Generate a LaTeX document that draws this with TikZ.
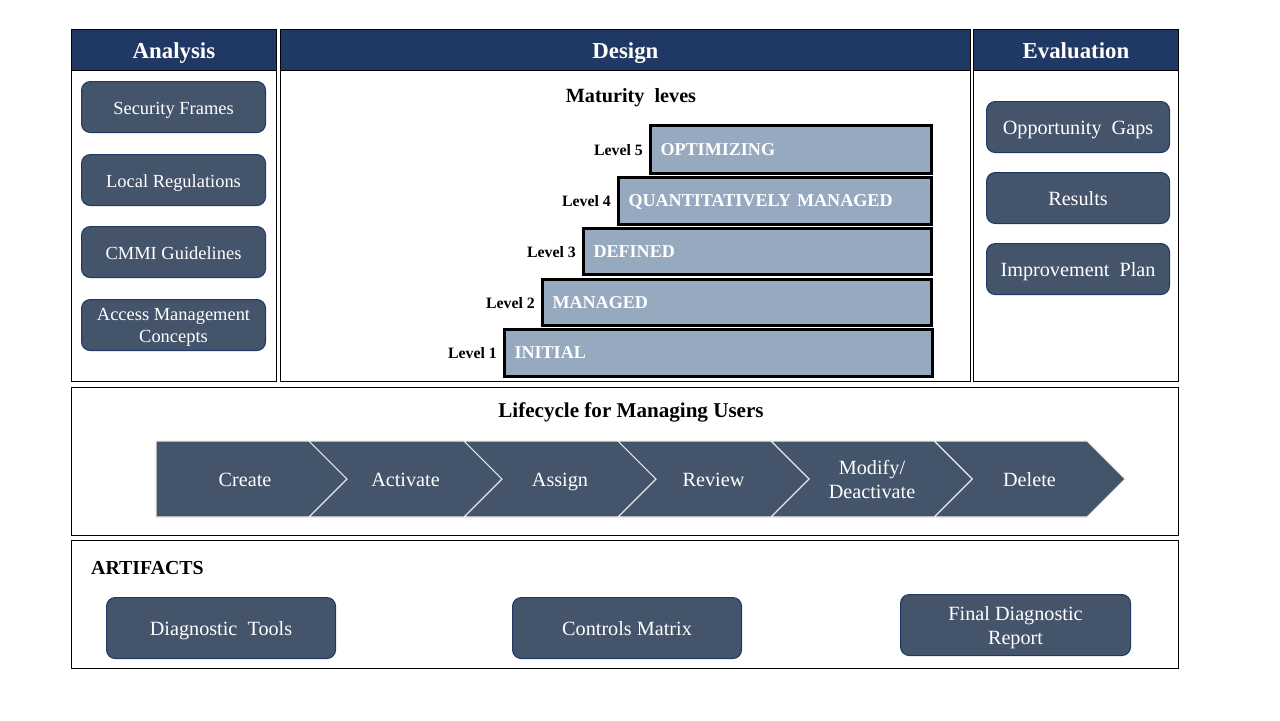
\documentclass[tikz,border=0pt]{standalone}
\usepackage{fontspec}
\setmainfont{Liberation Serif}

\definecolor{navy}{HTML}{203864}
\definecolor{slate}{HTML}{44546A}
\definecolor{steel}{HTML}{97A9BF}

\newlength\pxu
\setlength\pxu{0.02cm}

\tikzset{
  ctr/.style={text height=0.95em, text depth=0.1em},
  panel/.style={draw=black, line width=0.5pt, inner sep=0pt, anchor=north west},
  hdr/.style={fill=navy, draw=black, line width=0.5pt, inner sep=0pt, anchor=north west,
    text=white, text height=1.05em, text depth=0.1em, font=\fontsize{13}{15}\selectfont\bfseries},
  pill/.style={fill=slate, draw=navy, line width=0.6pt, rounded corners=5pt,
    inner sep=0pt, anchor=north west, text=white, align=center},
  pilltxt/.style={text=white, align=center, inner sep=0pt},
  lvlbox/.style={fill=steel, draw=black, line width=1.7pt, inner sep=0pt, anchor=north west,
    text=white, align=left, text height=0.8em, text depth=0.12em,
    font=\fontsize{10.3}{12}\selectfont\bfseries},
  lvltag/.style={text=black, text height=0.8em, text depth=0.12em,
    font=\fontsize{9}{11}\selectfont\bfseries},
  chev/.style={fill=slate, draw=white!85!gray, line width=0.6pt},
  chevtxt/.style={text=white, align=center, font=\fontsize{11.5}{14}\selectfont},
  ttl/.style={ctr, font=\fontsize{11.5}{13}\selectfont\bfseries},
  wh/.style n args={2}{minimum width=#1*\pxu, minimum height=#2*\pxu}
}

\begin{document}
\begin{tikzpicture}[x=0.02cm, y=-0.02cm]
    \useasboundingbox (0,0) rectangle (1280,720);

    % three top panels
    \node[panel, wh={205}{352}] (analysis) at (71,29) {};
    \node[panel, wh={690}{352}] (design) at (280,29) {};
    \node[panel, wh={205}{352}] (evaluation) at (973,29) {};
    \node[hdr, wh={205}{41}] (analysishdr) at (71,29) {Analysis};
    \node[hdr, wh={690}{41}] (designhdr) at (280,29) {Design};
    \node[hdr, wh={205}{41}] (evaluationhdr) at (973,29) {Evaluation};

    % analysis inputs
    \begin{scope}[every node/.append style={font=\fontsize{10.5}{12.5}\selectfont}]
        \node[pill, ctr, wh={184}{51}] (secframes) at (81,81) {Security Frames};
        \node[pill, ctr, wh={184}{51}] (localreg) at (81,154) {Local Regulations};
        \node[pill, ctr, wh={184}{51}] (cmmi) at (81,226) {CMMI Guidelines};
        \node[pill, wh={184}{51}] (accessmgmt) at (81,299) {};
        \node[pilltxt, yshift=-1.1pt] (accesstxt) at (accessmgmt.center) {Access Management\\Concepts};
    \end{scope}

    % maturity levels
    \node[ttl] (maturity) at (631,95) {Maturity\ \ leves};
    \node[lvlbox, wh={281}{48}, text width=261*\pxu,
          label={[lvltag]left:Level 5}] (lvl5) at (649,124) {OPTIMIZING};
    \node[lvlbox, wh={313}{47}, text width=293*\pxu,
          label={[lvltag]left:Level 4}] (lvl4) at (617,176) {QUANTITATIVELY MANAGED};
    \node[lvlbox, wh={348}{46}, text width=328*\pxu,
          label={[lvltag]left:Level 3}] (lvl3) at (582,227) {DEFINED};
    \node[lvlbox, wh={389}{46}, text width=369*\pxu,
          label={[lvltag]left:Level 2}] (lvl2) at (541,278) {MANAGED};
    \node[lvlbox, wh={428}{47}, text width=408*\pxu,
          label={[lvltag]left:Level 1}] (lvl1) at (503,328) {INITIAL};

    % evaluation outputs
    \begin{scope}[every node/.append style={ctr, font=\fontsize{11.5}{13.5}\selectfont}]
        \node[pill, wh={183}{51}] (gaps) at (986,101) {Opportunity\ \ Gaps};
        \node[pill, wh={183}{51}] (results) at (986,172) {Results};
        \node[pill, wh={183}{51}] (improve) at (986,243) {Improvement\ \ Plan};
    \end{scope}

    % lifecycle
    \node[panel, wh={1107}{148}] (lifecycle) at (71,387) {};
    \node[ttl, font=\fontsize{12}{14}\selectfont\bfseries] (lifetitle) at (631,410) {Lifecycle for Managing Users};
    \filldraw[chev] (156,441) -- (309,441) -- (347,479) -- (309,517) -- (156,517) -- cycle;
    \node[chevtxt, ctr] (create) at (245,479) {Create};
    \foreach \xl/\xr/\txt/\nm in {309/464/Activate/activate, 464/618/Assign/assign,
        618/771/Review/review, 934/1087/Delete/delete} {
        \filldraw[chev] (\xl,441) -- (\xr,441) -- (\xr+38,479) -- (\xr,517) -- (\xl,517) -- (\xl+38,479) -- cycle;
        \node[chevtxt, ctr] (\nm) at ({(\xl+\xr+38)/2},479) {\txt};
    }
    \filldraw[chev] (771,441) -- (934,441) -- (972,479) -- (934,517) -- (771,517) -- (809,479) -- cycle;
    \node[chevtxt] (modify) at (872,479.5) {Modify/\\Deactivate};

    % artifacts
    \node[panel, wh={1107}{128}] (artifacts) at (71,540) {};
    \node[ttl, font=\fontsize{11.3}{13}\selectfont\bfseries, anchor=west] (arttitle) at (85,567) {ARTIFACTS};
    \begin{scope}[every node/.append style={font=\fontsize{11.5}{14}\selectfont}]
        \node[pill, ctr, wh={229}{61}] (diagtools) at (106,597) {Diagnostic\ \ Tools};
        \node[pill, ctr, wh={229}{61}] (ctrlmatrix) at (512,597) {Controls Matrix};
        \node[pill, wh={230}{61}] (finalreport) at (900,594) {};
        \node[pilltxt, yshift=-1.4pt] (finaltxt) at (finalreport.center) {Final Diagnostic\\Report};
    \end{scope}
\end{tikzpicture}
\end{document}
